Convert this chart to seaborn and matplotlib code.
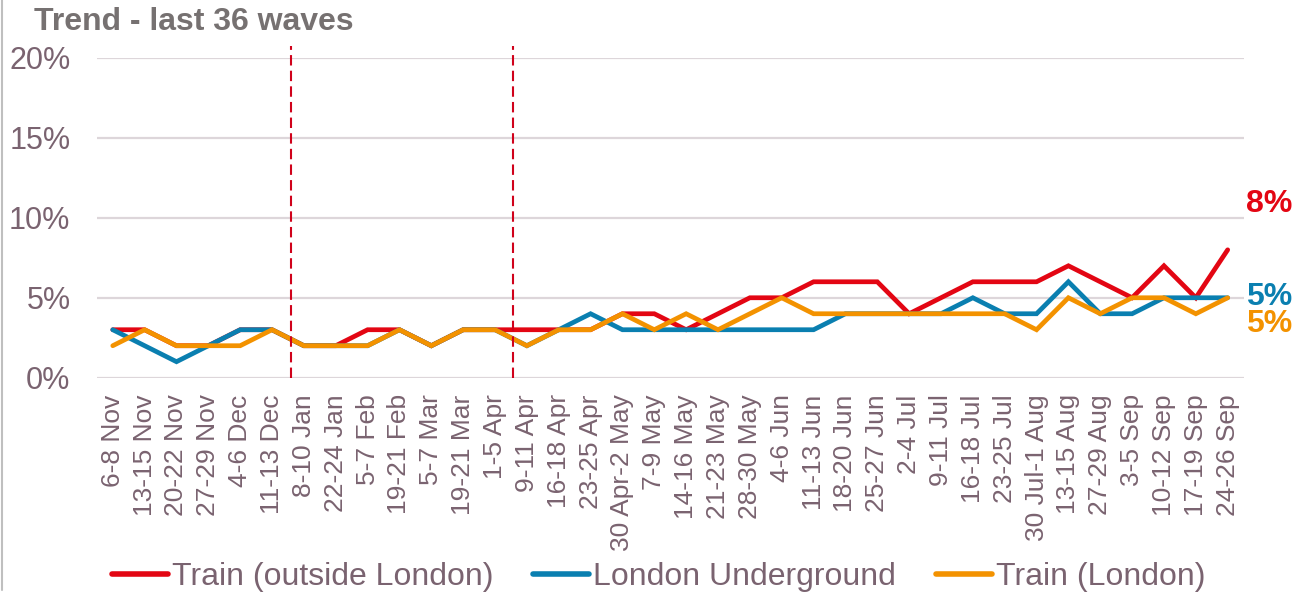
import numpy as np
import pandas as pd
import matplotlib
matplotlib.use("Agg")
import matplotlib.pyplot as plt
from matplotlib.lines import Line2D
from matplotlib.ticker import PercentFormatter
import seaborn as sns

waves = ['6-8 Nov', '13-15 Nov', '20-22 Nov', '27-29 Nov', '4-6 Dec', '11-13 Dec',
         '8-10 Jan', '22-24 Jan', '5-7 Feb', '19-21 Feb', '5-7 Mar', '19-21 Mar',
         '1-5 Apr', '9-11 Apr', '16-18 Apr', '23-25 Apr', '30 Apr-2 May', '7-9 May',
         '14-16 May', '21-23 May', '28-30 May', '4-6 Jun', '11-13 Jun', '18-20 Jun',
         '25-27 Jun', '2-4 Jul', '9-11 Jul', '16-18 Jul', '23-25 Jul', '30 Jul-1 Aug',
         '13-15 Aug', '27-29 Aug', '3-5 Sep', '10-12 Sep', '17-19 Sep', '24-26 Sep']

train_outside = [3, 3, 2, 2, 3, 3, 2, 2, 3, 3, 2, 3, 3, 3, 3, 3, 4, 4,
                 3, 4, 5, 5, 6, 6, 6, 4, 5, 6, 6, 6, 7, 6, 5, 7, 5, 8]
underground = [3, 2, 1, 2, 3, 3, 2, 2, 2, 3, 2, 3, 3, 2, 3, 4, 3, 3,
               3, 3, 3, 3, 3, 4, 4, 4, 4, 5, 4, 4, 6, 4, 4, 5, 5, 5]
train_london = [2, 3, 2, 2, 2, 3, 2, 2, 2, 3, 2, 3, 3, 2, 3, 3, 4, 3,
                4, 3, 4, 5, 4, 4, 4, 4, 4, 4, 4, 3, 5, 4, 5, 5, 4, 5]

series = ['Train (outside London)', 'London Underground', 'Train (London)']
colors = ['#E30613', '#0A7FB0', '#F39200']
break_positions = [5.6, 12.55]

TEXT = '#7A6370'

df = pd.concat([
    pd.DataFrame({'pos': np.arange(len(waves)), 'value': np.array(v) / 100, 'mode': name})
    for name, v in zip(series, [train_outside, underground, train_london])
])

sns.set_style('white')
plt.rcParams['font.family'] = ['Liberation Sans', 'DejaVu Sans']

fig = plt.figure(figsize=(13.07, 5.96), dpi=100)
ax = fig.add_axes([0.0741, 0.3663, 0.8774, 0.5364])

sns.lineplot(data=df, x='pos', y='value', hue='mode', hue_order=series,
             palette=colors, linewidth=3.4, ax=ax, legend=False)
for ln in ax.get_lines():
    ln.set_solid_capstyle('round')
    ln.set_solid_joinstyle('miter')

ax.set_xlim(-0.5, len(waves) - 0.5)
ax.set_ylim(0, 0.20)
ax.set_yticks([0, 0.05, 0.10, 0.15, 0.20])
ax.yaxis.set_major_formatter(PercentFormatter(1.0, decimals=0))
ax.grid(axis='y', color='#DDD6DA', linewidth=1.6)
ax.set_axisbelow(True)
for s in ax.spines.values():
    s.set_visible(False)

ax.set_xticks(np.arange(len(waves)))
ax.set_xticklabels(waves, rotation=90, fontsize=19, color=TEXT)
ax.tick_params(axis='x', length=0, pad=12)
ax.tick_params(axis='y', length=0, pad=19, labelsize=22, labelcolor=TEXT)
ax.set_xlabel('')
ax.set_ylabel('')

for xp in break_positions:
    ax.axvline(xp, ymin=0, ymax=1.038, color='#D0021B', linewidth=1.5,
               linestyle=(0, (5, 2.5)), clip_on=False)

# end-of-line labels (baseline offsets in points)
last = len(waves) - 1
offsets = [27.3, -5.2, -24.7]
for vals, col, dy in zip([train_outside, underground, train_london], colors, offsets):
    ax.annotate(f'{vals[-1]}%', xy=(last, vals[-1] / 100), xytext=(13.5, dy),
                textcoords='offset points', ha='left', va='baseline',
                fontsize=23, fontweight='bold', color=col, annotation_clip=False)

fig.text(0.026, 0.963, 'Trend - last 36 waves', fontsize=23, fontweight='bold',
         color='#767171', ha='left', va='center')

fig.add_artist(Line2D([0.0018, 0.0018], [0.01, 1.0], color='#BFBFBF', linewidth=1.5))

handles = [Line2D([0], [0], color=c, linewidth=4, solid_capstyle='round') for c in colors]
leg = fig.legend(handles, series, loc='center', bbox_to_anchor=(0.504, 0.032), ncol=3,
                 frameon=False, fontsize=23, handlelength=1.75, handletextpad=0.12,
                 columnspacing=1.25, borderaxespad=0)
for t in leg.get_texts():
    t.set_color(TEXT)

fig.savefig('out.png', dpi=100)
